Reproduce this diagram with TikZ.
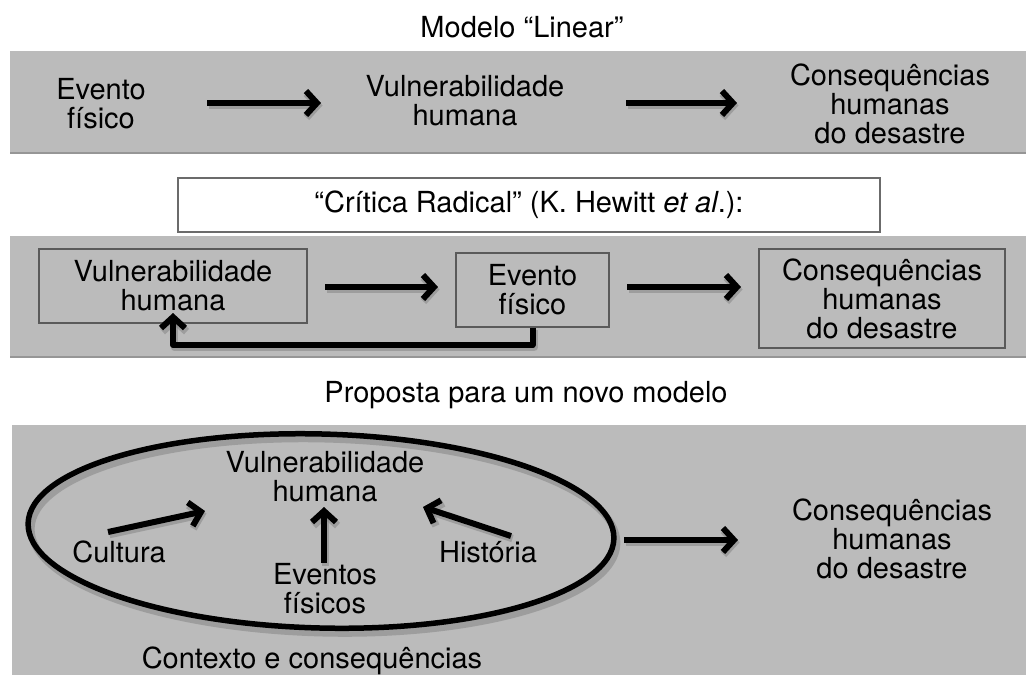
\documentclass[tikz,border=0pt]{standalone}
\usepackage{fontspec}
\setmainfont{TeX Gyre Heros}
\usetikzlibrary{arrows.meta,shapes.geometric}
\definecolor{panel}{RGB}{187,187,187}
\definecolor{panelline}{RGB}{150,150,150}
\definecolor{boxline}{RGB}{90,90,90}
\newcommand\shadarrow[1]{\draw[arrshadow] #1; \draw[bigarrow] #1;}
\begin{document}
\begin{tikzpicture}[x=1pt,y=-1pt,
  txt/.style={inner sep=0pt, align=center, font=\fontsize{29}{29}\selectfont},
  bigarrow/.style={line width=6pt, -{Straight Barb[length=11pt,width=24pt]}, line join=round},
  arrshadow/.style={bigarrow, draw=black!50, opacity=0.5, line width=7.5pt, transform canvas={shift={(1.5pt,-2.5pt)}}},
  framebox/.style={txt, draw=boxline, line width=1.3pt},
]
\useasboundingbox (0,0) rectangle (1026,675);
\fill[white] (0,0) rectangle (1026,675);

% ---------- panel 1 ----------
\node[txt, anchor=base] (t1) at (522,37) {Modelo “Linear”};
\fill[panel] (10,51) rectangle (1026,153);
\draw[panelline, line width=1.2pt] (10,153) -- (1026,153);
\node[txt] (ev1) at (101,104) {Evento\\físico};
\node[txt] (vu1) at (465,101) {Vulnerabilidade\\humana};
\node[txt] (co1) at (890,104) {Consequências\\humanas\\do desastre};
\coordinate (a1s) at (207,103); \coordinate (a1e) at (321,103);
\coordinate (a2s) at (626,103); \coordinate (a2e) at (737,103);
\shadarrow{(a1s) -- (a1e)}
\shadarrow{(a2s) -- (a2e)}

% ---------- critica box ----------
\node[txt, draw=boxline!90, line width=1.6pt, fill=white, minimum width=702pt, minimum height=54pt] (crbox) at (529,205) {};
\node[txt] (cr) at (crbox.center) {“Crítica Radical” (K. Hewitt \textit{et al}.):};

% ---------- panel 2 ----------
\fill[panel] (10,236) rectangle (1026,357);
\draw[panelline, line width=1.2pt] (10,357) -- (1026,357);
\node[framebox, minimum width=268pt, minimum height=74pt] (vu2) at (173,286) {Vulnerabilidade\\humana};
\node[framebox, minimum width=153pt, minimum height=74pt] (ev2) at (532.5,290) {Evento\\físico};
\node[framebox, minimum width=246pt, minimum height=99pt] (co2) at (882,298.5) {Consequências\\humanas\\do desastre};
\coordinate (b1s) at (325,287); \coordinate (b1e) at (438,287);
\coordinate (b2s) at (627,287); \coordinate (b2e) at (741,287);
\shadarrow{(b1s) -- (b1e)}
\shadarrow{(b2s) -- (b2e)}
\coordinate (fbrow) at (0,345);
\coordinate (fbtip) at (173,313);
\shadarrow{(ev2.south) -- (ev2.south |- fbrow) -- (fbtip |- fbrow) -- (fbtip)}

% ---------- panel 3 ----------
\node[txt, anchor=base] (t3) at (526,402) {Proposta para um novo modelo};
\fill[panel] (12,425) rectangle (1026,675);
\node[ellipse, draw=black!50, line width=7pt, opacity=0.5, minimum width=586pt, minimum height=194pt, rotate=-1.5, transform canvas={shift={(1.5pt,-2.5pt)}}] (ellsh) at (321,531) {};
\node[ellipse, draw=black, line width=5.5pt, minimum width=586pt, minimum height=194pt, rotate=-1.5] (ell) at (321,531) {};
\node[txt] (vu3) at (325,477) {Vulnerabilidade\\humana};
\node[txt, anchor=base] (cu) at (119,562) {Cultura};
\node[txt, anchor=base] (hi) at (488,562) {História};
\node[txt] (ef) at (325,589) {Eventos\\físicos};
\node[txt, anchor=base] (cx) at (312,668) {Contexto e consequências};
\node[txt] (co3) at (892,539) {Consequências\\humanas\\do desastre};
\coordinate (c1s) at (108,532); \coordinate (c1e) at (205,511);
\coordinate (c2s) at (324,563); \coordinate (c2e) at (324,507);
\coordinate (c3s) at (511,536); \coordinate (c3e) at (423,507);
\coordinate (c4s) at (624,540); \coordinate (c4e) at (738,540);
\shadarrow{(c1s) -- (c1e)}
\shadarrow{(c2s) -- (c2e)}
\shadarrow{(c3s) -- (c3e)}
\shadarrow{(c4s) -- (c4e)}
\end{tikzpicture}
\end{document}
